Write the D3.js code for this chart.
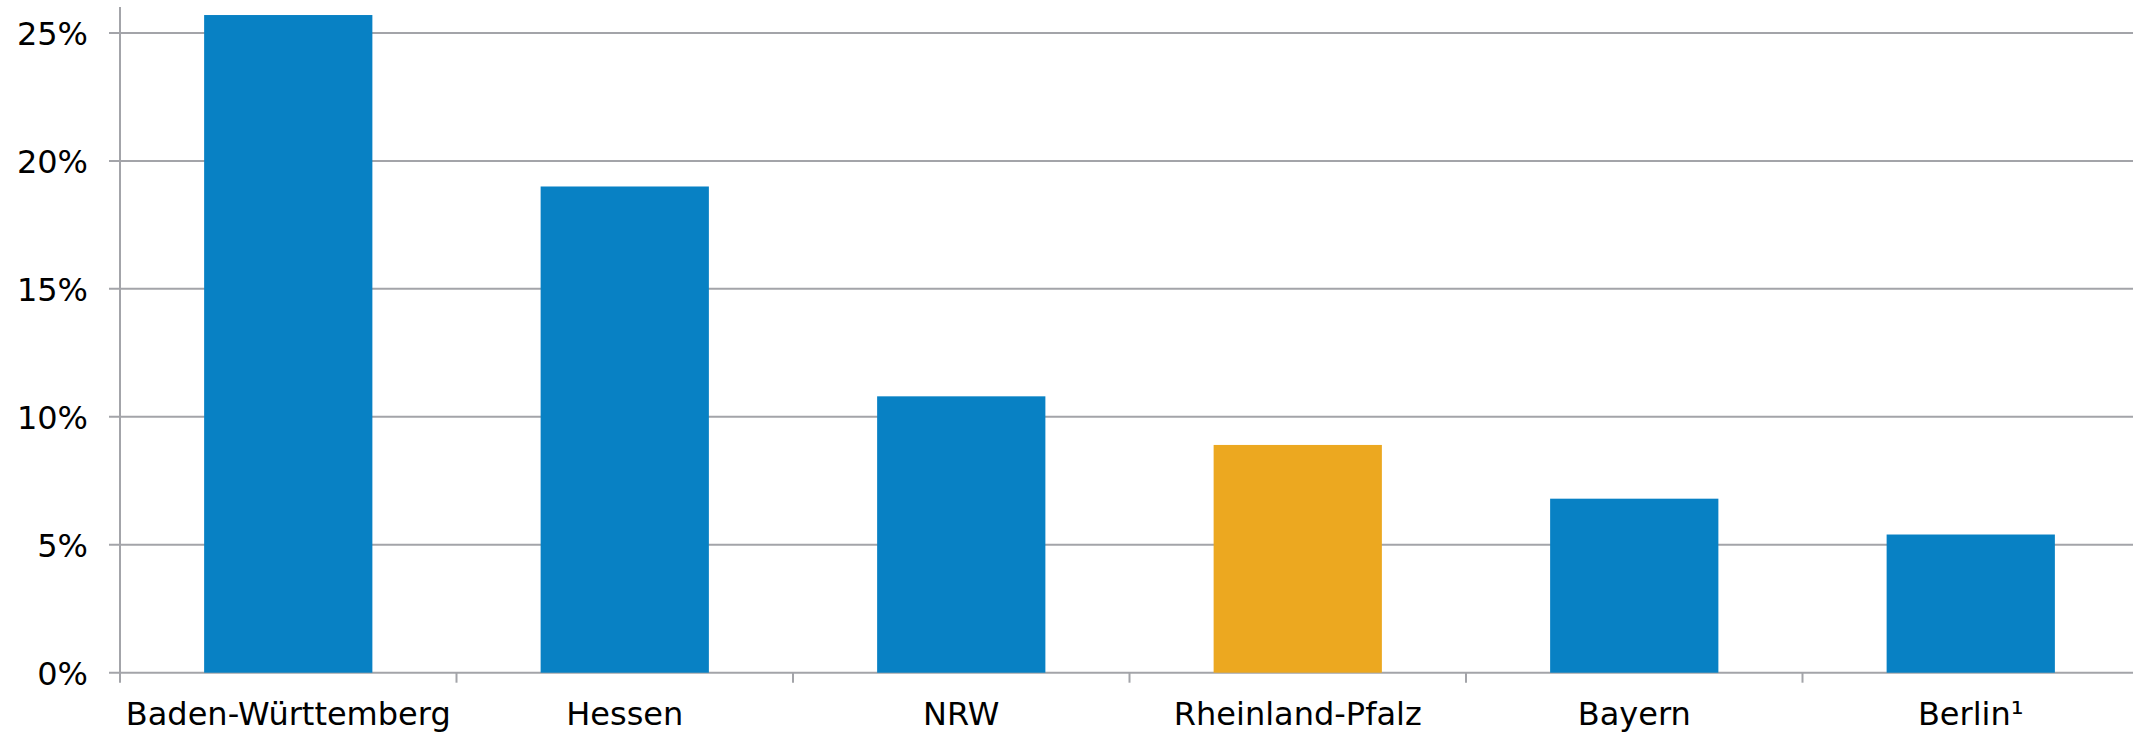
<!DOCTYPE html>
<html>
<head>
<meta charset="utf-8">
<script src="https://cdn.jsdelivr.net/npm/d3@7"></script>
<style>
  html, body { margin: 0; padding: 0; background: #fff; }
  svg { display: block; }
  text { font-family: "DejaVu Sans", Verdana, sans-serif; fill: #000; }
</style>
</head>
<body>
<svg id="chart" width="2133" height="734"></svg>
<script>
// chart data
const categories = ['Baden-Württemberg', 'Hessen', 'NRW', 'Rheinland-Pfalz', 'Bayern', 'Berlin¹'];
const values = [25.7, 19.0, 10.8, 8.9, 6.8, 5.4];
const highlight = ['Rheinland-Pfalz'];
const yTicks = [0, 5, 10, 15, 20, 25];

const width = 2133, height = 734;
const plotLeft = 120, plotRight = 2139, plotTop = 7, plotBottom = 672.7;
const gridColor = '#a3a4a9';

const svg = d3.select('#chart');

const x = d3.scaleBand().domain(categories).range([plotLeft, plotRight]).padding(0);
const y = d3.scaleLinear().domain([0, 25]).range([plotBottom, plotBottom - 25 * 25.59]);

// gridlines
svg.append('g')
  .selectAll('line')
  .data(yTicks)
  .join('line')
  .attr('x1', plotLeft - 11)
  .attr('x2', width)
  .attr('y1', d => y(d))
  .attr('y2', d => y(d))
  .attr('stroke', gridColor)
  .attr('stroke-width', 2);

// y axis line
svg.append('line')
  .attr('x1', plotLeft).attr('x2', plotLeft)
  .attr('y1', plotTop).attr('y2', plotBottom + 10)
  .attr('stroke', gridColor)
  .attr('stroke-width', 2);

// x ticks at band boundaries
svg.append('g')
  .selectAll('line')
  .data(categories.slice(1))
  .join('line')
  .attr('x1', d => x(d))
  .attr('x2', d => x(d))
  .attr('y1', plotBottom)
  .attr('y2', plotBottom + 10)
  .attr('stroke', gridColor)
  .attr('stroke-width', 2);

// bars
const barW = x.bandwidth() * 0.5;
svg.append('g')
  .selectAll('rect')
  .data(categories)
  .join('rect')
  .attr('x', d => x(d) + (x.bandwidth() - barW) / 2)
  .attr('width', barW)
  .attr('y', (d, i) => y(values[i]))
  .attr('height', (d, i) => y(0) - y(values[i]))
  .attr('fill', d => highlight.includes(d) ? '#eca820' : '#0881c4');

// y labels
svg.append('g')
  .selectAll('text')
  .data(yTicks)
  .join('text')
  .attr('x', 88)
  .attr('y', d => y(d) + 1)
  .attr('text-anchor', 'end')
  .attr('dominant-baseline', 'central')
  .style('font-size', '32px')
  .text(d => d + '%');

// x labels
svg.append('g')
  .selectAll('text')
  .data(categories)
  .join('text')
  .attr('x', d => x(d) + x.bandwidth() / 2)
  .attr('y', 725)
  .attr('text-anchor', 'middle')
  .style('font-size', '32px')
  .text(d => d);
</script>
</body>
</html>
